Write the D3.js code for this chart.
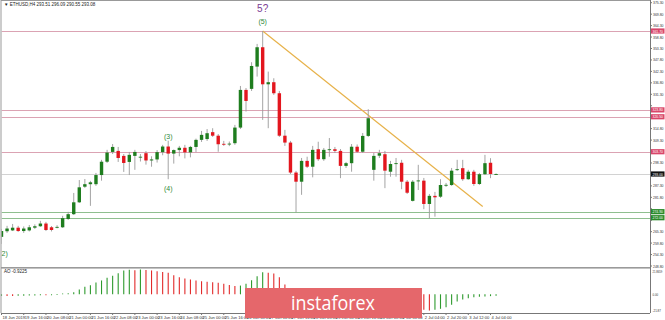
<!DOCTYPE html>
<html><head><meta charset="utf-8">
<script src="https://cdn.jsdelivr.net/npm/d3@7"></script>
<style>html,body{margin:0;padding:0;background:#fff;}svg{display:block;}</style>
</head><body><svg id="c" width="665" height="320"></svg>
<script>
// ---- data ----
const opens  = [262.8,265.5,265.9,267.2,265.6,265.9,267.2,267.9,269.2,267.4,267.5,267.4,271.4,273.7,279.4,286.9,288.1,288.1,292.5,298.9,303.6,
  304.1,301.7,298.8,301.7,301.2,303.0,299.5,300.0,303.5,306.2,302.8,304.5,305.6,303.4,306.0,
  309.4,309.8,313.1,311.4,307.5,307.3,307.8,315.3,333.4,333.9,344.6,353.9,336.1,337.1,331.8,311.4,308.1,293.7,289.3,299.3,296.5,304.9,300.1,304.8,304.9,304.1,296.9,298.2,306.1,303.7,311.3,
  295.0,301.8,302.5,294.1,298.1,298.4,289.3,280.1,289.8,289.8,278.6,282.5,282.1,287.7,287.7,295.2,295.8,290.5,294.1,288.2,292.9,298.4,293.0];
const highs  = [266.6,268.1,269.0,268.1,267.8,268.5,268.8,270.5,270.0,268.0,268.4,272.9,274.8,283.9,290.1,290.6,289.7,293.5,299.8,304.6,307.4,
  306.0,302.6,303.6,304.6,302.6,304.0,301.5,304.5,307.0,309.0,304.8,306.5,307.0,306.5,310.0,
  313.7,314.6,315.0,312.2,308.9,308.6,316.6,335.3,334.3,346.7,355.5,361.7,342.2,339.0,332.9,314.2,308.9,294.5,300.7,301.3,306.5,308.5,305.5,310.3,306.0,305.0,298.8,307.4,307.2,312.7,324.1,
  303.1,304.6,304.1,299.3,300.7,299.8,290.1,290.1,297.4,291.1,283.4,284.4,290.5,288.7,295.9,299.8,299.8,295.0,295.0,293.5,302.2,300.6,293.3];
const lows   = [259.4,264.7,265.6,265.2,264.7,265.4,266.6,267.6,265.6,265.4,266.9,267.1,270.9,273.3,279.1,286.3,277.7,287.3,289.8,298.3,302.6,
  298.8,294.0,292.5,295.0,299.0,297.5,296.5,298.5,302.0,290.5,298.0,301.5,300.5,301.0,303.5,
  308.4,308.9,310.8,303.7,306.5,306.4,307.0,314.6,323.0,332.9,339.8,319.0,315.0,331.0,310.8,306.5,293.0,274.4,283.0,295.9,291.4,299.3,299.3,301.3,303.1,291.0,295.9,294.1,303.1,303.1,310.8,
  289.8,300.7,286.2,291.7,291.7,285.7,283.4,279.8,285.3,276.1,271.7,272.5,281.5,286.8,287.3,294.5,289.7,290.2,287.3,287.7,292.5,291.0,292.8];
const closes = [265.6,266.8,267.2,265.6,266.8,267.4,267.9,269.2,266.1,266.1,267.6,271.8,273.7,279.4,286.6,288.1,289.0,292.5,298.9,303.3,306.0,
  300.7,298.3,302.2,303.6,301.3,299.5,300.0,303.5,306.2,302.8,304.5,305.6,303.4,306.0,309.4,
  311.8,312.6,311.4,307.3,307.4,307.6,315.3,333.4,328.1,344.9,353.9,336.1,337.1,331.8,311.4,308.1,293.7,289.3,299.3,296.5,304.6,300.1,304.6,304.9,304.1,296.9,298.2,306.1,303.7,311.3,319.8,
  301.7,303.0,294.6,297.8,298.2,289.3,284.0,289.3,289.9,278.6,282.5,281.8,287.7,287.8,294.6,295.3,290.5,294.1,288.2,292.9,298.2,293.0,293.0];
const aoValues = [-0.9,-1.0,-1.0,-0.9,-0.8,-0.7,-0.6,-0.5,-0.5,-0.4,-0.2,0.2,0.6,1.4,3.9,6.3,7.7,10.2,12.0,14.4,16.2,18.5,21.0,21.6,21.3,21.87,21.5,21.0,20.4,19.6,18.9,16.8,15.0,13.8,12.9,12.0,11.4,10.8,10.5,9.9,9.0,8.0,7.0,7.4,9.0,12.2,15.8,19.4,18.9,18.3,15.0,8.4,
  4.0,1.5,-0.5,-2.0,-3.0,-4.0,-4.5,-5.0,-5.2,-6.0,-6.5,-6.2,-6.0,-5.5,-4.5,-4.8,-5.3,-6.5,-7.5,-8.2,-9.3,-10.8,-11.9,-12.8,
  -13.5,-14.1,-13.5,-12.6,-11.2,-9.0,-6.0,-4.2,-3.0,-2.1,-1.8,-1.5,-1.2,-0.9];
const xLabels = ["18 Jun 2019","19 Jun 16:00","20 Jun 08:00","21 Jun 00:00","21 Jun 16:00","22 Jun 08:00","23 Jun 00:00","23 Jun 16:00","24 Jun 08:00","25 Jun 00:00","25 Jun 16:00","26 Jun 08:00","27 Jun 00:00","27 Jun 16:00","28 Jun 08:00","29 Jun 00:00","29 Jun 16:00","30 Jun 08:00","1 Jul 00:00","2 Jul 04:00","2 Jul 20:00","3 Jul 12:00","4 Jul 04:00"];
const xLabelBars = [0,4,8,12,16,20,24,28,32,36,40,44,48,52,56,60,64,68,72,76,80,84,88];
const priceTicks = [375.30,369.80,364.30,358.80,353.30,347.80,342.30,336.80,331.30,325.80,320.30,314.80,309.30,303.80,298.30,292.80,287.30,281.80,276.30,270.80,265.30,259.80,254.30,248.80];
const resistanceLevels = [361.7,323.8,320.5,303.7];
const supportLevels = [274.9,272.0];
const currentPrice = 293.0;
const trendStart = {bar:47, price:361.7};
const trendEnd = {bar:86.6, price:277.4};
const aoTicks = ["21.8659","0.00","-21.87"];
const waveLabels = [{t:"(5)",bar:47,price:361.7,dy:-7},{t:"(3)",bar:30,price:311.0,dy:2},{t:"(4)",bar:30,price:290.5,dy:12},{t:"2)",bar:0,price:259.4,dy:12}];

// ---- drawing ----
const svg = d3.select("#c");
const W=665, H=320;
const plotL=1.5, plotR=650, mainTop=1, mainBot=267, aoTop=268, aoBot=313;
const x = d3.scaleLinear().domain([0,116.7]).range([plotL, plotR]);
const y = d3.scaleLinear().domain([248.80,375.30]).range([266.0,2.7]);
const ya = d3.scaleLinear().domain([0,21.8659]).range([294.3,270]);
const font = "'Liberation Sans', Arial, sans-serif";
const green="#1e7d1e", red="#e3161e";

svg.append("rect").attr("width",W).attr("height",H).attr("fill","#fff");

svg.append("defs").append("clipPath").attr("id","mc").append("rect")
  .attr("x",plotL).attr("y",mainTop).attr("width",plotR-plotL).attr("height",mainBot-mainTop);
const g = svg.append("g").attr("clip-path","url(#mc)");

// horizontal levels
const hl = (v,col)=>g.append("line").attr("x1",plotL).attr("x2",plotR).attr("y1",Math.round(y(v))+0.5).attr("y2",Math.round(y(v))+0.5).attr("stroke",col).attr("stroke-width",1);
resistanceLevels.forEach(v=>hl(v,"#dba3b3"));
supportLevels.forEach(v=>hl(v,"#8fbf8f"));
hl(currentPrice,"#d2d2d2");

// trend line
g.append("line").attr("x1",x(trendStart.bar)).attr("y1",y(trendStart.price)).attr("x2",x(trendEnd.bar)).attr("y2",y(trendEnd.price))
  .attr("stroke","#e7b24a").attr("stroke-width",1.2);

// candles
const bw=3.4;
opens.forEach((o,i)=>{
  const c=closes[i], up=c>=o;
  g.append("line").attr("x1",x(i)).attr("x2",x(i)).attr("y1",y(highs[i])).attr("y2",y(lows[i])).attr("stroke","#9a9a9a").attr("stroke-width",0.9);
  const top=y(Math.max(o,c)), bot=y(Math.min(o,c));
  g.append("rect").attr("x",x(i)-bw/2).attr("y",top).attr("width",bw).attr("height",Math.max(bot-top,0.9))
    .attr("fill",up?green:red);
});

// wave labels
waveLabels.forEach(w=>svg.append("text").attr("x",x(w.bar)).attr("y",y(w.price)+w.dy).attr("text-anchor",w.t==="2)"?"start":"middle")
  .attr("font-family",font).attr("font-size",7).attr("fill","#2f8a3a").text(w.t));
svg.append("text").attr("x",x(47)).attr("y",12).attr("text-anchor","middle").attr("font-family",font).attr("font-size",10)
  .attr("fill","#7b3a93").text("5?");

// title
svg.append("text").attr("x",4).attr("y",6).attr("font-family",font).attr("font-size",4.5).attr("fill","#222")
  .text("\u25BC ETHUSD,H4  293.51 296.09 290.55 293.08");

// AO panel
const ga = svg.append("g");
ga.append("text").attr("x",4).attr("y",272.5).attr("font-family",font).attr("font-size",4.5).attr("fill","#222").text("AO -0.9225");
aoValues.forEach((v,i)=>{
  const col = (i===0 || v>aoValues[i-1]) ? "#2e9a2e" : "#e22a2a";
  ga.append("line").attr("x1",x(i)).attr("x2",x(i)).attr("y1",ya(0)).attr("y2",ya(v)+(v>=0?-0.5:0.5)).attr("stroke",col).attr("stroke-width",1.1);
});

// frames
svg.append("line").attr("x1",plotR+0.5).attr("x2",plotR+0.5).attr("y1",0).attr("y2",aoBot).attr("stroke","#777");
svg.append("line").attr("x1",1).attr("x2",1).attr("y1",0).attr("y2",aoBot).attr("stroke","#999");
svg.append("line").attr("x1",1).attr("x2",plotR).attr("y1",0.5).attr("y2",0.5).attr("stroke","#999");
svg.append("rect").attr("x",1).attr("y",mainBot).attr("width",plotR-1).attr("height",1.6).attr("fill","#9a9a9a");
svg.append("line").attr("x1",1).attr("x2",plotR).attr("y1",aoBot+0.5).attr("y2",aoBot+0.5).attr("stroke","#777");

// price axis
const ax = svg.append("g").attr("font-family",font).attr("font-size",4.2).attr("fill","#333");
const lab = (xx,yy,t,fill)=>ax.append("text").attr("x",xx).attr("y",yy).attr("fill",fill||"#333")
  .attr("textLength",10.5).attr("lengthAdjust","spacingAndGlyphs").text(t);
const tagVals = resistanceLevels.concat(supportLevels,[currentPrice]);
priceTicks.forEach(v=>{
  ax.append("line").attr("x1",plotR).attr("x2",plotR+2).attr("y1",y(v)).attr("y2",y(v)).attr("stroke","#777");
  if (tagVals.some(t=>Math.abs(y(t)-y(v))<5)) return;   // covered by a level tag
  lab(plotR+3,y(v)+1.5,v.toFixed(2));
});
function tag(v,fill){
  const yy=y(v);
  ax.append("rect").attr("x",plotR+1).attr("y",yy-2.6).attr("width",13.5).attr("height",5.2).attr("fill",fill);
  lab(plotR+2.5,yy+1.5,v.toFixed(2),"#fff");
}
resistanceLevels.forEach(v=>tag(v,"#d9466a"));
supportLevels.forEach(v=>tag(v,"#2a8a2a"));
tag(currentPrice,"#111");

// AO axis
[273.4, ya(0)+1.5, 311.5].forEach((yy,k)=>{
  ax.append("text").attr("x",plotR+2.5).attr("y",yy).attr("font-size",3.6).attr("textLength",aoTicks[k].length*1.4)
    .attr("lengthAdjust","spacingAndGlyphs").text(aoTicks[k]);
});

// time axis
xLabels.forEach((t,k)=>{
  const xx=x(xLabelBars[k]);
  ax.append("line").attr("x1",xx).attr("x2",xx).attr("y1",aoBot).attr("y2",aoBot+2).attr("stroke","#777");
  ax.append("text").attr("x",xx+1).attr("y",318.5).attr("font-size",4.1).text(t);
});

// logo
svg.append("rect").attr("x",245).attr("y",288).attr("width",177).attr("height",30).attr("fill","#e5676b");
svg.append("text").attr("x",333).attr("y",310).attr("text-anchor","middle").attr("font-family","'Open Sans', sans-serif")
  .attr("font-size",20).attr("fill","#fff").attr("textLength",84).attr("lengthAdjust","spacingAndGlyphs").text("instaforex");
</script></body></html>
